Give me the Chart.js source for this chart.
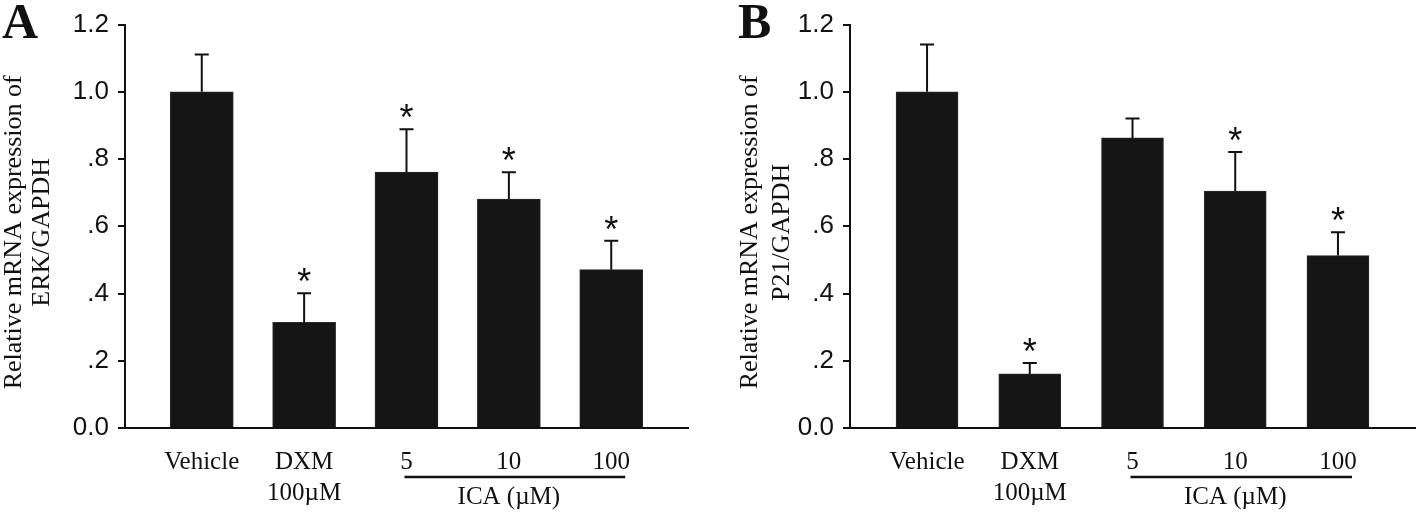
<!DOCTYPE html>
<html>
<head>
<meta charset="utf-8">
<script src="https://cdn.jsdelivr.net/npm/chart.js@4"></script>
<style>
  html, body { margin: 0; padding: 0; background: #fff; }
  #wrap { position: relative; width: 1418px; height: 512px; overflow: hidden; }
  canvas { position: absolute; top: 0; }
  #panelA { left: 0; }
  #panelB { left: 725px; }
</style>
</head>
<body>
<div id="wrap">
  <canvas id="panelA" width="700" height="512"></canvas>
  <canvas id="panelB" width="693" height="512"></canvas>
</div>
<script>
// ===============================
// Data
// ===============================
const categories = ["Vehicle", ["DXM", "100\u00B5M"], "5", "10", "100"];
const groupLabel = "ICA (\u00B5M)";

const yTicks = [0, 0.2, 0.4, 0.6, 0.8, 1.0, 1.2];
const yTickLabels = ["0.0", ".2", ".4", ".6", ".8", "1.0", "1.2"];

// Panel A - ERK
const erkMeans = [1.00, 0.314, 0.761, 0.681, 0.471];
const erkErrors = [0.111, 0.087, 0.128, 0.080, 0.086];
const erkStars = [false, true, true, true, true];

// Panel B - P21
const p21Means = [1.00, 0.161, 0.863, 0.705, 0.513];
const p21Errors = [0.141, 0.032, 0.058, 0.116, 0.069];
const p21Stars = [false, true, false, true, true];

const INK = "#111111";
const BAR = "#151515";
const SANS = '"Liberation Sans", Arial, sans-serif';
const SERIF = '"Liberation Serif", "Times New Roman", serif';

// ===============================
// Plugin: error bars, asterisks, x labels, titles
// ===============================
const annotPlugin = {
  id: "annot",
  beforeDraw(chart) {
    const c = chart.ctx;
    c.save();
    c.fillStyle = "#fff";
    c.fillRect(0, 0, chart.width, chart.height);
    c.restore();
  },
  afterDraw(chart, args, o) {
    const c = chart.ctx;
    const xs = chart.scales.x;
    const ys = chart.scales.y;
    const area = chart.chartArea;
    c.save();

    // error bars + asterisks
    c.strokeStyle = INK;
    c.fillStyle = INK;
    c.lineWidth = 2;
    o.means.forEach((m, i) => {
      const x = xs.getPixelForValue(i);
      const y0 = ys.getPixelForValue(m);
      const y1 = ys.getPixelForValue(m + o.errors[i]);
      c.beginPath();
      c.moveTo(x, y0);
      c.lineTo(x, y1);
      c.moveTo(x - 7, y1);
      c.lineTo(x + 7, y1);
      c.stroke();
      if (o.stars[i]) {
        c.font = "36px " + SANS;
        c.textAlign = "center";
        c.textBaseline = "alphabetic";
        c.fillText("*", x, y1 + 1);
      }
    });

    // x labels
    c.font = "25px " + SERIF;
    c.textAlign = "center";
    c.textBaseline = "middle";
    categories.forEach((lab, i) => {
      const x = xs.getPixelForValue(i);
      const lines = Array.isArray(lab) ? lab : [lab];
      lines.forEach((t, k) => c.fillText(t, x, area.bottom + 34 + k * 31));
    });

    // ICA bracket line
    c.lineWidth = 2.5;
    c.beginPath();
    c.moveTo(xs.getPixelForValue(2) - 2, area.bottom + 49);
    c.lineTo(xs.getPixelForValue(4) + 14, area.bottom + 49);
    c.stroke();
    c.fillText(groupLabel, xs.getPixelForValue(3), area.bottom + 69);

    // y title (two lines, rotated)
    const yMid = (area.top + area.bottom) / 2 + 6;
    c.font = "26px " + SERIF;
    o.yTitle.forEach((t, k) => {
      c.save();
      c.translate(o.titleX[k], yMid);
      c.rotate(-Math.PI / 2);
      c.textAlign = "center";
      c.textBaseline = "middle";
      c.fillText(t, 0, 0);
      c.restore();
    });

    // panel letter
    c.font = "bold 50px " + SERIF;
    c.textAlign = "left";
    c.textBaseline = "alphabetic";
    c.fillText(o.letter, o.letterX, 38);

    c.restore();
  }
};

// ===============================
// Panel builder
// ===============================
function makePanel(id, means, errors, stars, opts) {
  return new Chart(document.getElementById(id), {
    type: "bar",
    data: {
      datasets: [{
        data: means.map((v, i) => ({ x: i, y: v })),
        backgroundColor: BAR,
        borderColor: "#2b2b2b",
        borderWidth: 1,
        barThickness: opts.barWidth
      }]
    },
    options: {
      responsive: false,
      animation: false,
      devicePixelRatio: 1,
      layout: { padding: { left: 0, top: 23, right: opts.rightPad, bottom: 84 } },
      plugins: {
        legend: { display: false },
        tooltip: { enabled: false },
        annot: {
          means, errors, stars,
          yTitle: opts.yTitle,
          titleX: opts.titleX,
          letter: opts.letter,
          letterX: opts.letterX
        }
      },
      scales: {
        x: {
          type: "linear",
          min: -0.75,
          max: 4.75,
          offset: false,
          ticks: { display: false },
          grid: { display: false },
          border: { display: true, color: INK, width: 2 },
          afterFit: s => { s.height = 0; }
        },
        y: {
          min: 0,
          max: 1.2,
          afterBuildTicks: s => { s.ticks = yTicks.map(v => ({ value: v })); },
          ticks: {
            callback: (v, i) => yTickLabels[i],
            font: { family: SANS, size: 26 },
            color: INK,
            padding: 9
          },
          grid: {
            drawOnChartArea: false,
            drawTicks: true,
            tickLength: 7,
            lineWidth: 2,
            color: INK
          },
          border: { display: true, color: INK, width: 2 },
          afterFit: s => { s.width = 125; }
        }
      }
    },
    plugins: [annotPlugin]
  });
}

makePanel("panelA", erkMeans, erkErrors, erkStars, {
  barWidth: 63,
  rightPad: 12,
  yTitle: ["Relative mRNA expression of", "ERK/GAPDH"],
  titleX: [14, 42],
  letter: "A",
  letterX: 2
});

makePanel("panelB", p21Means, p21Errors, p21Stars, {
  barWidth: 62,
  rightPad: 3,
  yTitle: ["Relative mRNA expression of", "P21/GAPDH"],
  titleX: [25, 57],
  letter: "B",
  letterX: 13
});
</script>
</body>
</html>
